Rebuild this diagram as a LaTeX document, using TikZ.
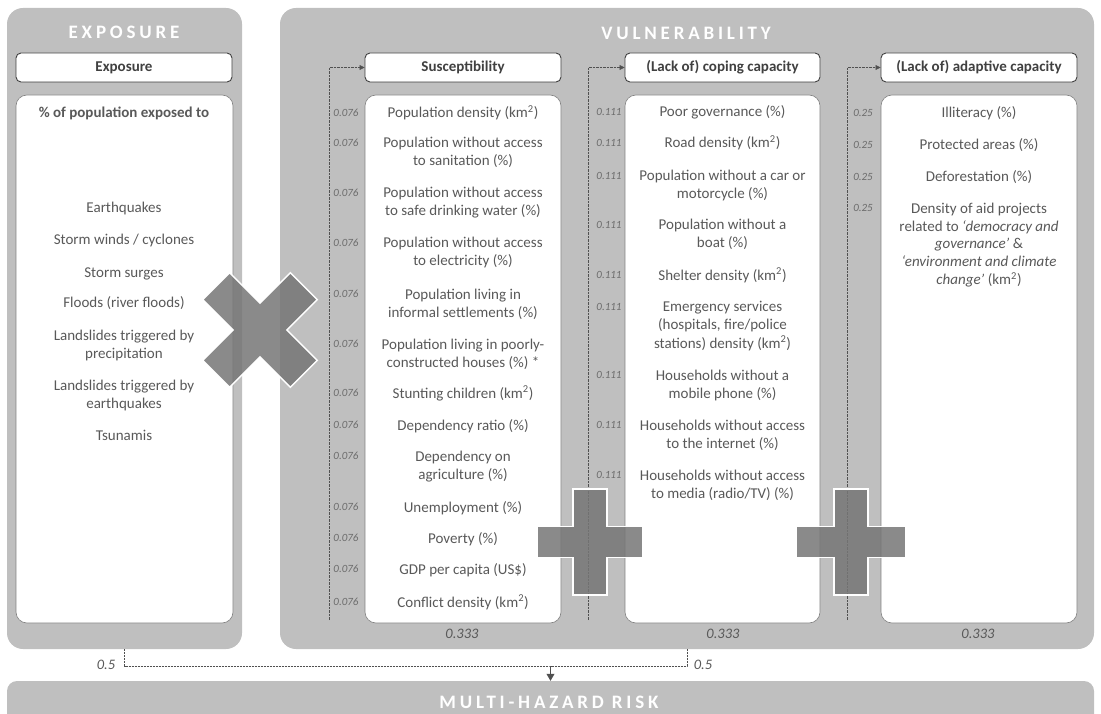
\documentclass[tikz,border=0pt]{standalone}
\usepackage{fontspec}
\setmainfont{Carlito}
\newfontfamily\titlefont[LetterSpace=20]{Carlito}
\usetikzlibrary{arrows.meta}

\definecolor{panelgray}{RGB}{191,191,191}
\definecolor{txtgray}{RGB}{89,89,89}
\definecolor{numgray}{RGB}{108,108,108}
\definecolor{hdrgray}{RGB}{64,64,64}
\definecolor{boxline}{RGB}{130,130,130}
\definecolor{markgray}{RGB}{118,118,118}
\definecolor{linegray}{RGB}{80,80,80}

\newcommand\kmsq{(km\textsuperscript{2})}

\begin{document}
\begin{tikzpicture}[x=1pt,y=-1pt,
  panel/.style={fill=panelgray, draw=none, rounded corners=16pt, inner sep=0pt, minimum height=641pt},
  hdrbox/.style={fill=white, draw=hdrgray, line width=0.9pt, rounded corners=5pt, minimum height=29pt, inner sep=0pt, font=\fontsize{15}{18}\selectfont\bfseries, text=hdrgray},
  listbox/.style={fill=white, draw=boxline, line width=0.6pt, rounded corners=11pt, minimum height=528pt, inner sep=0pt},
  titletext/.style={font=\titlefont\fontsize{19}{22}\selectfont\bfseries, text=white, inner sep=0pt},
  item/.style={font=\fontsize{15}{18}\selectfont, text=txtgray, align=center, inner sep=0pt, anchor=base},
  wt/.style={font=\fontsize{11}{13}\selectfont\itshape, text=numgray, inner sep=0pt, anchor=base},
  sumwt/.style={font=\fontsize{14.5}{17}\selectfont\itshape, text=txtgray, inner sep=0pt},
  dotconn/.style={draw=linegray, line width=0.7pt, dash pattern=on 0.7pt off 0.7pt, -{Triangle[length=5pt,width=5pt]}},
  dashconn/.style={draw=linegray, line width=0.7pt, dash pattern=on 2pt off 1pt},
  arrconn/.style={draw=linegray, line width=0.7pt, -{Triangle[length=7pt,width=8pt]}},
  markshape/.style={fill=markgray, fill opacity=0.85, draw=white, line width=1.5pt, line join=miter}
]
\useasboundingbox (0,0) rectangle (1101,714);

% panels
\node[panel, minimum width=235pt] (expo) at (124.5,328.5) {};
\node[panel, minimum width=814pt] (vuln) at (687,328.5) {};
\node[fill=panelgray, draw=none, rounded corners=10pt, minimum width=1087pt, minimum height=60pt, inner sep=0pt] (mhr) at (550.5,711) {};

% titles
\node[titletext] (expot) at (124,32) {EXPOSURE};
\node[titletext] (vulnt) at (686,33) {VULNERABILITY};
\node[titletext] (mhrt) at (549,702) {MULTI-HAZARD RISK};

% headers
\node[hdrbox, minimum width=216pt] (expoh) at (124,67.5) {Exposure};
\node[hdrbox, minimum width=196pt] (sush) at (463,67.5) {Susceptibility};
\node[hdrbox, minimum width=195pt] (copeh) at (722.5,67.5) {(Lack of) coping capacity};
\node[hdrbox, minimum width=196pt] (adaph) at (979,67.5) {(Lack of) adaptive capacity};

% list boxes
\node[listbox, minimum width=217pt] (expol) at (124.5,359) {};
\node[listbox, minimum width=196pt] (susl) at (463,359) {};
\node[listbox, minimum width=195pt] (copel) at (722.5,359) {};
\node[listbox, minimum width=196pt] (adapl) at (979,359) {};

% exposure items (anchor base = baseline of last line)
\node[item, font=\fontsize{15}{18}\selectfont\bfseries] (e0) at (124,118) {\% of population exposed to};
\node[item] (e1) at (124,213) {Earthquakes};
\node[item] (e2) at (124,245) {Storm winds / cyclones};
\node[item] (e3) at (124,277) {Storm surges};
\node[item] (e4) at (124,308) {Floods (river floods)};
\node[item] (e5) at (124,358) {Landslides triggered by\\precipitation};
\node[item] (e6) at (124,408) {Landslides triggered by\\earthquakes};
\node[item] (e7) at (124,440) {Tsunamis};

% susceptibility items
\node[item] (s1) at (463,118) {Population density \kmsq};
\node[item] (s2) at (463,166) {Population without access\\to sanitation (\%)};
\node[item] (s3) at (463,216) {Population without access\\to safe drinking water (\%)};
\node[item] (s4) at (463,266) {Population without access\\to electricity (\%)};
\node[item] (s5) at (463,317) {Population living in\\informal settlements (\%)};
\node[item] (s6) at (463,367) {Population living in poorly-\\constructed houses (\%) *};
\node[item] (s7) at (463,398) {Stunting children \kmsq};
\node[item] (s8) at (463,430) {Dependency ratio (\%)};
\node[item] (s9) at (463,479) {Dependency on\\agriculture (\%)};
\node[item] (s10) at (463,512) {Unemployment (\%)};
\node[item] (s11) at (463,543) {Poverty (\%)};
\node[item] (s12) at (463,574) {GDP per capita (US\$)};
\node[item] (s13) at (463,607) {Conflict density \kmsq};

\foreach \yy [count=\i] in {113,143,193,243,294,344,393,425,456,507,538,569,602}
  \node[wt] (sw\i) at (346,\yy+3.6) {0.076};

% coping items
\node[item] (c1) at (722.5,117) {Poor governance (\%)};
\node[item] (c2) at (722.5,148) {Road density \kmsq};
\node[item] (c3) at (722.5,199) {Population without a car or\\motorcycle (\%)};
\node[item] (c4) at (722.5,248) {Population without a\\boat (\%)};
\node[item] (c5) at (722.5,280) {Shelter density \kmsq};
\node[item] (c6) at (722.5,348) {Emergency services\\(hospitals, fire/police\\stations) density \kmsq};
\node[item] (c7) at (722.5,398) {Households without a\\mobile phone (\%)};
\node[item] (c8) at (722.5,448) {Households without access\\to the internet (\%)};
\node[item] (c9) at (722.5,498) {Households without access\\to media (radio/TV) (\%)};

\foreach \yy [count=\i] in {112,143,176,225,275,307,375,425,475}
  \node[wt] (cw\i) at (609,\yy+3.6) {0.111};

% adaptive items
\node[item] (a1) at (979,118) {Illiteracy (\%)};
\node[item] (a2) at (979,150) {Protected areas (\%)};
\node[item] (a3) at (979,182) {Deforestation (\%)};
\node[item] (a4) at (979,285) {Density of aid projects\\related to \textit{‘democracy and}\\\textit{governance’} \&\\\textit{‘environment and climate}\\\textit{change’} \kmsq};

\foreach \yy [count=\i] in {113,145,177,208}
  \node[wt] (aw\i) at (863,\yy+3.6) {0.25};

% group weights
\node[sumwt] (susw) at (462,634) {0.333};
\node[sumwt] (copew) at (723,634) {0.333};
\node[sumwt] (adapw) at (978,634) {0.333};
\node[sumwt] (expow) at (106,665) {0.5};
\node[sumwt] (vulnw) at (703,665) {0.5};

% dotted connectors
\coordinate (sdot) at (329,620);
\coordinate (cdot) at (588,620);
\coordinate (adot) at (847,620);
\draw[dotconn] (sdot) |- (sush.west);
\draw[dotconn] (cdot) |- (copeh.west);
\draw[dotconn] (adot) |- (adaph.west);

% dashed aggregation
\coordinate (join) at (550.5,666);
\draw[dashconn] (expo.south) |- (join) -| (vuln.south);
\draw[arrconn] (join) -- (mhr.north);

% operator marks
\draw[markshape, shift={(260,330)}, rotate=45]
  (-19,-62) -- (19,-62) -- (19,-19) -- (62,-19) -- (62,19) -- (19,19) -- (19,62)
  -- (-19,62) -- (-19,19) -- (-62,19) -- (-62,-19) -- (-19,-19) -- cycle;
\draw[markshape, shift={(590,542)}]
  (-17,-53) -- (17,-53) -- (17,-15.5) -- (53,-15.5) -- (53,15.5) -- (17,15.5) -- (17,53)
  -- (-17,53) -- (-17,15.5) -- (-53,15.5) -- (-53,-15.5) -- (-17,-15.5) -- cycle;
\draw[markshape, shift={(851,542)}]
  (-17,-53) -- (17,-53) -- (17,-15.5) -- (55,-15.5) -- (55,15.5) -- (17,15.5) -- (17,53)
  -- (-17,53) -- (-17,15.5) -- (-55,15.5) -- (-55,-15.5) -- (-17,-15.5) -- cycle;
\end{tikzpicture}
\end{document}
